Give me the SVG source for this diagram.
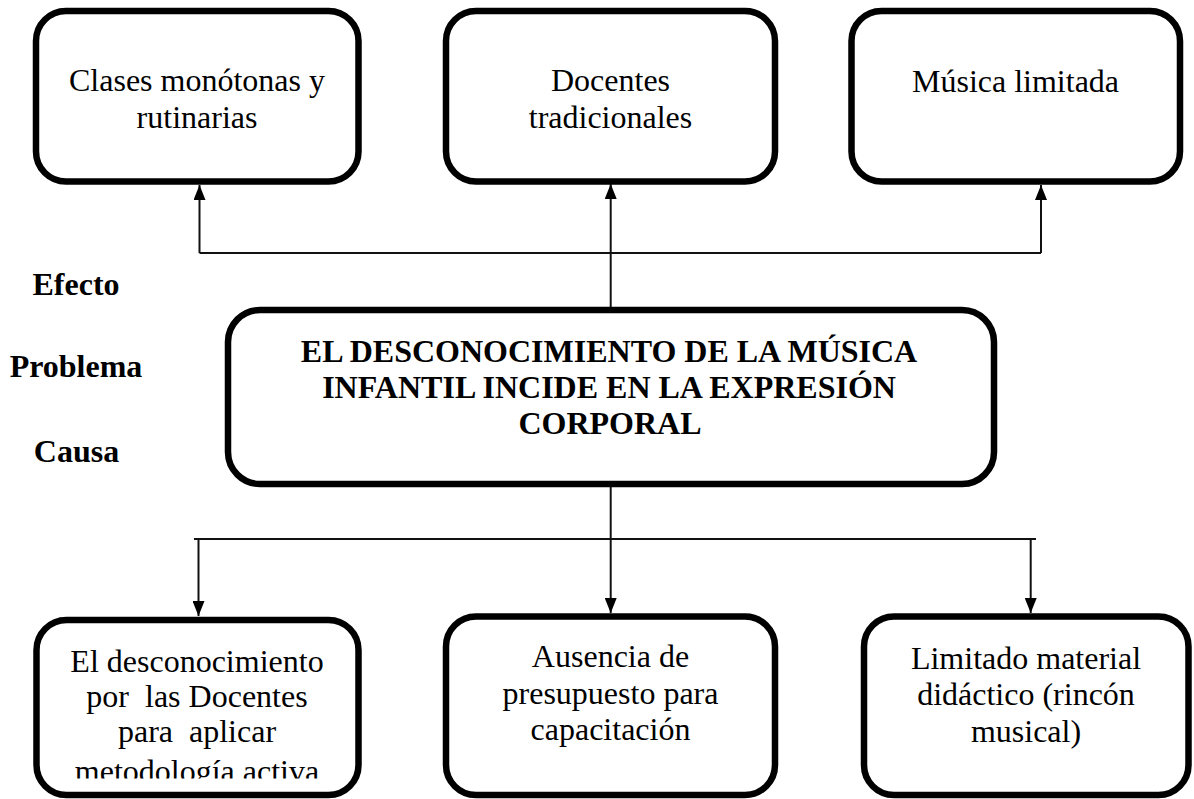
<svg xmlns="http://www.w3.org/2000/svg" width="1194" height="799" viewBox="0 0 1194 799">
<style>
.box{fill:#fff;stroke:#000;stroke-width:6.5}
.t{font-family:"Liberation Serif","Times New Roman",serif;font-size:32px;fill:#000;text-anchor:middle;white-space:pre}
.b{font-weight:bold}
.ln{stroke:#111;stroke-width:2;fill:none}
</style>
<defs>
<marker id="ah" viewBox="0 0 15 12" refX="15" refY="6" markerWidth="15" markerHeight="12" markerUnits="userSpaceOnUse" orient="auto">
<path d="M0,0 L15,6 L0,12 Z" fill="#000"/>
</marker>
<clipPath id="clip1"><rect x="40" y="620" width="315" height="158.5"/></clipPath>
</defs>
<rect width="1194" height="799" fill="#fff"/>
<g id="connectors">
<path class="ln" d="M199.5,253 H1041"/>
<path class="ln" d="M199.5,253 V185" marker-end="url(#ah)"/>
<path class="ln" d="M1041,253 V185" marker-end="url(#ah)"/>
<path class="ln" d="M610.7,307 V184" marker-end="url(#ah)"/>
<path class="ln" d="M194,539 H1036"/>
<path class="ln" d="M198.5,540 V616" marker-end="url(#ah)"/>
<path class="ln" d="M610.7,487 V613" marker-end="url(#ah)"/>
<path class="ln" d="M1030.7,540 V613" marker-end="url(#ah)"/>
</g>
<g id="effect1">
<rect class="box" x="36" y="11" width="322.5" height="170.5" rx="30"/>
<text class="t" x="197" y="91">Clases monótonas y</text>
<text class="t" x="197" y="128">rutinarias</text>
</g>
<g id="effect2">
<rect class="box" x="446" y="11" width="329" height="170.5" rx="30"/>
<text class="t" x="610.5" y="91">Docentes</text>
<text class="t" x="610.5" y="128">tradicionales</text>
</g>
<g id="effect3">
<rect class="box" x="851.5" y="11" width="328.5" height="170.5" rx="30"/>
<text class="t" x="1015.5" y="92">Música limitada</text>
</g>
<g id="labels">
<text class="t b" x="76" y="295">Efecto</text>
<text class="t b" x="76" y="377">Problema</text>
<text class="t b" x="76.5" y="462">Causa</text>
</g>
<g id="problem">
<rect class="box" x="228" y="310" width="766" height="174" rx="32"/>
<text class="t b" x="609" y="362">EL DESCONOCIMIENTO DE LA MÚSICA</text>
<text class="t b" x="609" y="398">INFANTIL INCIDE EN LA EXPRESIÓN</text>
<text class="t b" x="610" y="434">CORPORAL</text>
</g>
<g id="cause1">
<rect class="box" x="36.5" y="620" width="322" height="175" rx="30"/>
<text class="t" x="197" y="672">El desconocimiento</text>
<text class="t" x="197" y="707">por  las Docentes</text>
<text class="t" x="197" y="742">para  aplicar</text>
<text class="t" x="197" y="782" clip-path="url(#clip1)">metodología activa</text>
</g>
<g id="cause2">
<rect class="box" x="446" y="616.5" width="329" height="178.5" rx="30"/>
<text class="t" x="610.5" y="667">Ausencia de</text>
<text class="t" x="610.5" y="703.5">presupuesto para</text>
<text class="t" x="610.5" y="740">capacitación</text>
</g>
<g id="cause3">
<rect class="box" x="864" y="616.5" width="324.5" height="178.5" rx="30"/>
<text class="t" x="1026" y="668.5">Limitado material</text>
<text class="t" x="1026" y="705">didáctico (rincón</text>
<text class="t" x="1026" y="741.5">musical)</text>
</g>
</svg>
